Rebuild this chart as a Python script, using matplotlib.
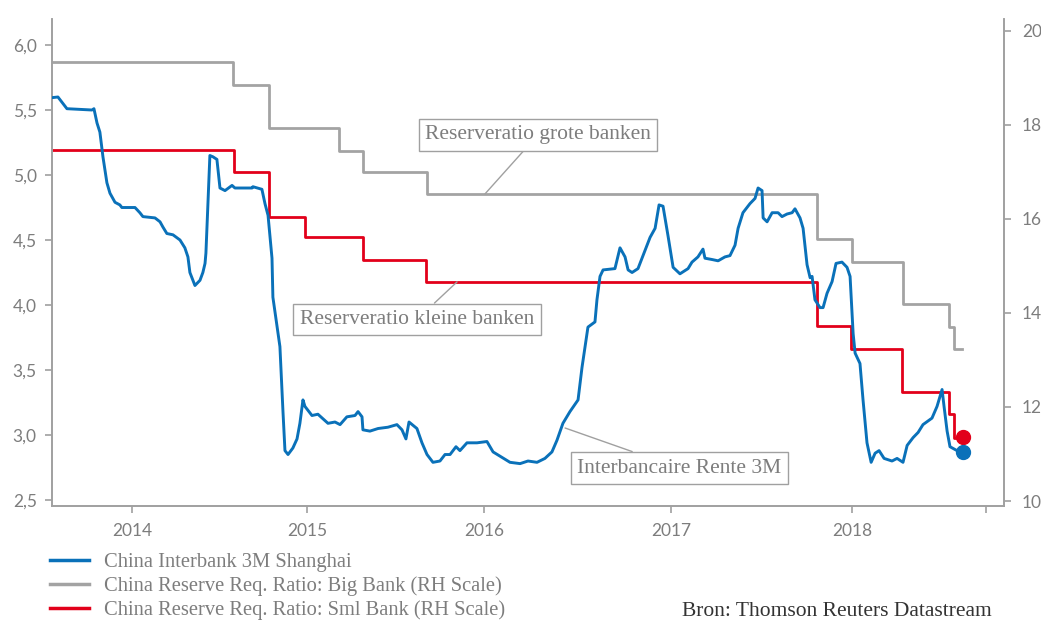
import matplotlib
matplotlib.use("Agg")
import matplotlib.pyplot as plt
from matplotlib.lines import Line2D

# ---------------- data ----------------
# China Interbank 3M Shanghai (left axis), decimal years
ib_year = [2013.556, 2013.589, 2013.611, 2013.639, 2013.778, 2013.789, 2013.806, 2013.822,
           2013.839, 2013.861, 2013.878, 2013.906, 2013.933, 2013.944, 2014.017, 2014.044,
           2014.061, 2014.128, 2014.156, 2014.172, 2014.194, 2014.228, 2014.267, 2014.294,
           2014.311, 2014.322, 2014.350, 2014.378, 2014.394, 2014.406, 2014.411, 2014.433,
           2014.450, 2014.472, 2014.489, 2014.517, 2014.556, 2014.572, 2014.667, 2014.672,
           2014.722, 2014.739, 2014.756, 2014.778, 2014.783, 2014.822, 2014.839, 2014.850,
           2014.867, 2014.894, 2014.917, 2014.933, 2014.950, 2014.961, 2015.000, 2015.033,
           2015.089, 2015.128, 2015.156, 2015.194, 2015.239, 2015.256, 2015.278, 2015.283,
           2015.322, 2015.367, 2015.422, 2015.472, 2015.500, 2015.522, 2015.539, 2015.583,
           2015.611, 2015.639, 2015.672, 2015.711, 2015.739, 2015.767, 2015.800, 2015.822,
           2015.861, 2015.917, 2015.972, 2016.006, 2016.100, 2016.156, 2016.200, 2016.250,
           2016.294, 2016.333, 2016.361, 2016.394, 2016.433, 2016.478, 2016.500, 2016.517,
           2016.533, 2016.572, 2016.583, 2016.600, 2016.617, 2016.683, 2016.711, 2016.739,
           2016.756, 2016.778, 2016.811, 2016.839, 2016.878, 2016.906, 2016.928, 2016.950,
           2016.978, 2017.006, 2017.044, 2017.089, 2017.111, 2017.144, 2017.172, 2017.183,
           2017.222, 2017.256, 2017.294, 2017.322, 2017.350, 2017.367, 2017.394, 2017.433,
           2017.461, 2017.478, 2017.500, 2017.506, 2017.528, 2017.556, 2017.589, 2017.611,
           2017.639, 2017.667, 2017.683, 2017.711, 2017.728, 2017.750, 2017.767, 2017.778,
           2017.794, 2017.822, 2017.839, 2017.861, 2017.889, 2017.911, 2017.944, 2017.972,
           2017.989, 2018.006, 2018.017, 2018.044, 2018.061, 2018.083, 2018.106, 2018.128,
           2018.150, 2018.178, 2018.222, 2018.250, 2018.283, 2018.306, 2018.339, 2018.367,
           2018.394, 2018.444, 2018.472, 2018.500, 2018.511, 2018.528, 2018.544, 2018.583,
           2018.617]
ib_rate = [5.595, 5.60, 5.56, 5.51, 5.50, 5.51, 5.40, 5.33,
           5.14, 4.94, 4.86, 4.79, 4.77, 4.75, 4.75, 4.71,
           4.68, 4.67, 4.64, 4.60, 4.55, 4.54, 4.50, 4.44,
           4.37, 4.25, 4.15, 4.19, 4.25, 4.32, 4.40, 5.15,
           5.14, 5.12, 4.90, 4.88, 4.92, 4.90, 4.90, 4.91,
           4.89, 4.78, 4.69, 4.36, 4.06, 3.68, 3.18, 2.88,
           2.85, 2.90, 2.97, 3.09, 3.27, 3.22, 3.15, 3.16,
           3.09, 3.10, 3.08, 3.14, 3.15, 3.18, 3.14, 3.04,
           3.03, 3.05, 3.06, 3.08, 3.04, 2.97, 3.10, 3.05,
           2.94, 2.85, 2.79, 2.80, 2.85, 2.85, 2.91, 2.88,
           2.94, 2.94, 2.95, 2.87, 2.79, 2.78, 2.80, 2.79,
           2.82, 2.87, 2.96, 3.09, 3.18, 3.27, 3.52, 3.68,
           3.83, 3.87, 4.04, 4.22, 4.27, 4.28, 4.44, 4.37,
           4.27, 4.25, 4.28, 4.38, 4.52, 4.59, 4.77, 4.76,
           4.53, 4.29, 4.24, 4.28, 4.33, 4.37, 4.43, 4.36,
           4.35, 4.34, 4.37, 4.38, 4.46, 4.59, 4.71, 4.78,
           4.82, 4.90, 4.88, 4.67, 4.64, 4.71, 4.71, 4.68,
           4.70, 4.71, 4.74, 4.67, 4.59, 4.31, 4.21, 4.22,
           4.04, 3.98, 3.98, 4.09, 4.18, 4.32, 4.33, 4.29,
           4.22, 3.78, 3.63, 3.55, 3.27, 2.94, 2.79, 2.86,
           2.88, 2.82, 2.80, 2.82, 2.79, 2.92, 2.98, 3.02,
           3.08, 3.13, 3.22, 3.35, 3.22, 3.03, 2.91, 2.88,
           2.87]

# Reserve requirement ratio, big banks (right axis) - step changes
big_year = [2013.556, 2014.561, 2014.761, 2015.150, 2015.283, 2015.639, 2017.806,
            2018.000, 2018.283, 2018.539, 2018.567, 2018.611]
big_rrr = [19.33, 18.85, 17.93, 17.45, 17.00, 16.53, 15.58, 15.09, 14.20, 13.71, 13.24, 13.24]

# Reserve requirement ratio, small banks (right axis) - step changes
sml_year = [2013.561, 2014.567, 2014.761, 2014.961, 2015.283, 2015.633, 2017.806,
            2017.994, 2018.278, 2018.539, 2018.567, 2018.611]
sml_rrr = [17.47, 16.99, 16.05, 15.62, 15.13, 14.66, 13.73, 13.24, 12.31, 11.86, 11.35, 11.35]

last_year = 2018.617
last_ib = 2.87
last_sml = 11.37

year_ticks = [2014.0, 2014.972, 2015.956, 2016.994, 2018.0, 2018.744]
year_labels = ["2014", "2015", "2016", "2017", "2018", ""]
left_ticks = [2.5, 3.0, 3.5, 4.0, 4.5, 5.0, 5.5, 6.0]
right_ticks = [10, 12, 14, 16, 18, 20]

labels = ["China Interbank 3M Shanghai",
          "China Reserve Req. Ratio: Big Bank (RH Scale)",
          "China Reserve Req. Ratio: Sml Bank (RH Scale)"]

# ---------------- style ----------------
BLUE = "#0a71b9"
GREY = "#a3a3a3"
RED = "#e2001a"
AXC = "#a0a0a0"
TXT = "#7d7d7d"
SERIF = ["Liberation Serif", "DejaVu Serif"]
TICKFONT = ["Lato", "DejaVu Sans"]

fig = plt.figure(figsize=(10.41, 6.21), dpi=100)
ax = fig.add_axes([52/1041, 1-506/621, (1004-52)/1041, (506-19)/621])
ax2 = ax.twinx()

ax.plot(ib_year, ib_rate, color=BLUE, lw=2.1, solid_joinstyle="round", zorder=3)
ax2.step(big_year, big_rrr, where="post", color=GREY, lw=2.0, zorder=2)
ax2.step(sml_year, sml_rrr, where="post", color=RED, lw=2.0, zorder=2)
ax.plot([last_year], [last_ib], "o", color=BLUE, ms=10, zorder=5, clip_on=False)
ax2.plot([last_year], [last_sml], "o", color=RED, ms=10, zorder=5, clip_on=False)

ax.set_xlim(2013.556, 2018.844)
ax.set_ylim(2.454, 6.2)
ax2.set_ylim(9.894, 20.25)

ax.set_xticks(year_ticks)
ax.set_xticklabels(year_labels)
ax.set_yticks(left_ticks)
ax.set_yticklabels([f"{v:.1f}".replace(".", ",") for v in left_ticks])
ax2.set_yticks(right_ticks)
ax2.set_yticklabels([str(v) for v in right_ticks])

for a in (ax, ax2):
    for s in a.spines.values():
        s.set_color(AXC)
        s.set_linewidth(1.2)
    a.spines["top"].set_visible(False)
    a.tick_params(colors=AXC, length=5, width=1.2, labelcolor=TXT, labelsize=12.5)
    for lab in a.get_xticklabels() + a.get_yticklabels():
        lab.set_family(TICKFONT)
ax.tick_params(axis="y", pad=6)
ax.tick_params(axis="x", pad=7)
ax2.tick_params(axis="y", pad=8)
ax.set_zorder(ax2.get_zorder() + 1)
ax.patch.set_visible(False)

# annotations
box = dict(boxstyle="square,pad=0.3", fc="white", ec=AXC, lw=1.0)
arr = dict(arrowstyle="-", color=AXC, lw=1.0, shrinkA=0, shrinkB=0)
ax2.annotate("Reserveratio grote banken", xy=(2015.961, 16.53), xytext=(2016.256, 17.79),
             textcoords="data", ha="center", va="center", fontsize=15.5, family=SERIF,
             color=TXT, bbox=box, arrowprops=arr, zorder=6)
ax2.annotate("Reserveratio kleine banken", xy=(2015.806, 14.66), xytext=(2015.583, 13.86),
             textcoords="data", ha="center", va="center", fontsize=15.5, family=SERIF,
             color=TXT, bbox=box, arrowprops=arr, zorder=6)
ax.annotate("Interbancaire Rente 3M", xy=(2016.406, 3.054), xytext=(2017.039, 2.746),
            textcoords="data", ha="center", va="center", fontsize=15.5, family=SERIF,
            color=TXT, bbox=box, arrowprops=arr, zorder=6)

# legend
handles = [Line2D([], [], color=BLUE, lw=2.5),
           Line2D([], [], color=GREY, lw=2.5),
           Line2D([], [], color=RED, lw=2.5)]
fig.legend(handles, labels, loc="upper left", bbox_to_anchor=(50/1041, 1-553/621),
           frameon=False, borderpad=0, borderaxespad=0, handlelength=1.9,
           handletextpad=0.72, labelspacing=0.2,
           prop=dict(family=SERIF, size=14.8), labelcolor=TXT)

fig.text(992/1041, 1-612/621, "Bron: Thomson Reuters Datastream", ha="right", va="center",
         fontsize=15.5, family=SERIF, color="#333333")

fig.savefig("out.png", dpi=100)
